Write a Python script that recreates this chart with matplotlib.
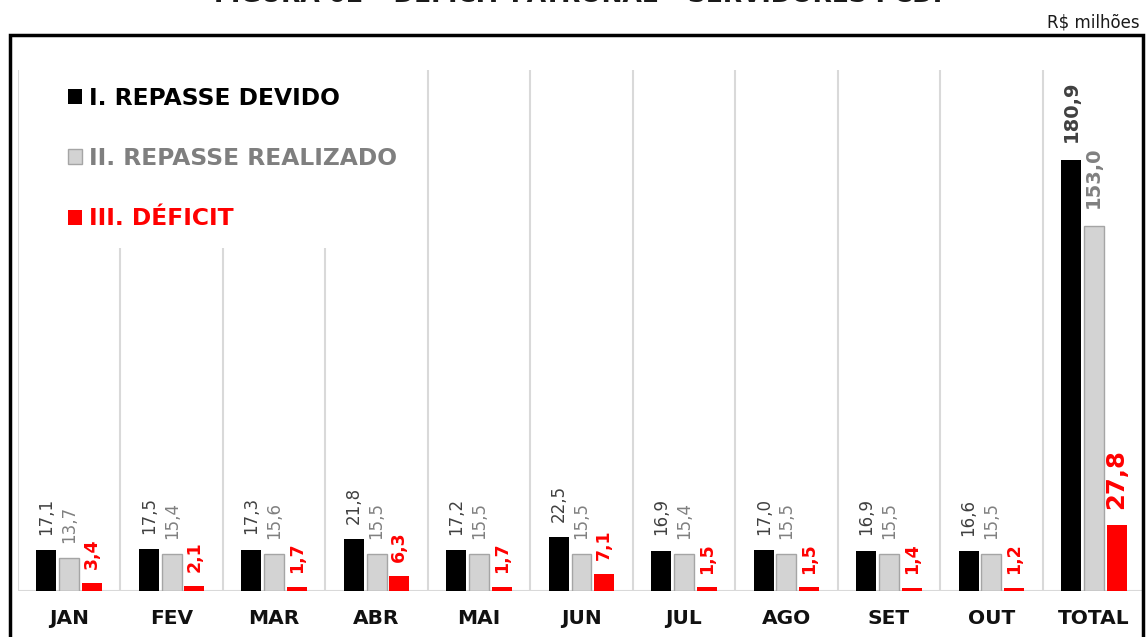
import numpy as np
import matplotlib.pyplot as plt
from matplotlib.patches import Patch, Rectangle

meses = ['JAN', 'FEV', 'MAR', 'ABR', 'MAI', 'JUN', 'JUL', 'AGO', 'SET', 'OUT', 'TOTAL']
devido = [17.1, 17.5, 17.3, 21.8, 17.2, 22.5, 16.9, 17.0, 16.9, 16.6, 180.9]
realizado = [13.7, 15.4, 15.6, 15.5, 15.5, 15.5, 15.4, 15.5, 15.5, 15.5, 153.0]
deficit = [3.4, 2.1, 1.7, 6.3, 1.7, 7.1, 1.5, 1.5, 1.4, 1.2, 27.8]

series = ['I. REPASSE DEVIDO', 'II. REPASSE REALIZADO', 'III. DÉFICIT']


def fmt(v):
    return ('%.1f' % v).replace('.', ',')


fig = plt.figure(figsize=(11.47, 6.37), dpi=100)
ax = fig.add_axes([18 / 1147, 46 / 637, 1127 / 1147, 521 / 637])

x = np.arange(len(meses))
w = 0.195
off = 0.222

# separadores verticais e linha de base
for b in np.arange(-0.5, len(meses) - 0.5):
    ax.axvline(b, color='#d9d9d9', lw=1.5, zorder=1)
ax.axhline(0, color='#d9d9d9', lw=1.5, zorder=1)

ax.bar(x - off, devido, w, color='black', zorder=3)
ax.bar(x, realizado, w, color='#d3d3d3', edgecolor='#a5a5a5', lw=1, zorder=3)
ax.bar(x + off, deficit, w, color='red', zorder=3)

last = len(meses) - 1
for i in range(len(meses)):
    tot = i == last
    for dx, vals, col, fs, wt in [(-off, devido, '#404040', 12, 'normal'),
                                  (0, realizado, '#808080', 12, 'normal'),
                                  (off, deficit, 'red', 12.5, 'bold')]:
        gap = 10 if col == 'red' else 11
        if tot:
            fs = 17.5 if col == 'red' else 14
            wt = 'bold'
            gap = 11 if col == 'red' else 13
        ax.annotate(fmt(vals[i]), (x[i] + dx, vals[i]), xytext=(0, gap),
                    textcoords='offset points', rotation=90, ha='center',
                    va='bottom', color=col, fontsize=fs, fontweight=wt,
                    zorder=4)

ax.set_xlim(-0.5, len(meses) - 0.5)
ax.set_ylim(0, 218.6)
ax.set_yticks([])
ax.set_xticks(x)
ax.set_xticklabels(meses, fontsize=14.5, fontweight='bold', color='#111111')
ax.tick_params(axis='x', length=0, pad=13)
for s in ax.spines.values():
    s.set_visible(False)

# fundo branco da legenda
ax.add_patch(Rectangle((0.002, 0.658), 0.36, 0.342, transform=ax.transAxes,
                       facecolor='white', edgecolor='none', zorder=2))
handles = [Patch(facecolor='black'),
           Patch(facecolor='#d3d3d3', edgecolor='#a5a5a5'),
           Patch(facecolor='red')]
leg = ax.legend(handles, series, loc='upper left', bbox_to_anchor=(0.0444, 0.968),
                borderaxespad=0, borderpad=0, frameon=False,
                handlelength=0.6, handleheight=0.6, handletextpad=0.3,
                labelspacing=1.6, labelcolor=['black', '#7f7f7f', 'red'],
                prop={'size': 16.8, 'weight': 'bold'})
leg.set_zorder(5)

# moldura externa
fig.patches.append(Rectangle((10 / 1147, -0.2), 1133 / 1147, 1.2 - 35 / 637,
                             transform=fig.transFigure, fill=False,
                             edgecolor='black', lw=2.5, clip_on=False))

fig.text(1140 / 1147, 1 - 22 / 637, 'R$ milhões', ha='right', va='center',
         fontsize=12, color='#1a1a1a')
# titulo cortado no topo, como na imagem original
fig.text(0.507, 1 - 2.5 / 637, 'FIGURA 02 – DÉFICIT PATRONAL – SERVIDORES PCDF',
         ha='center', va='baseline', fontsize=18, fontweight='bold', color='#1a1a1a')

fig.savefig('out.png', dpi=100)
